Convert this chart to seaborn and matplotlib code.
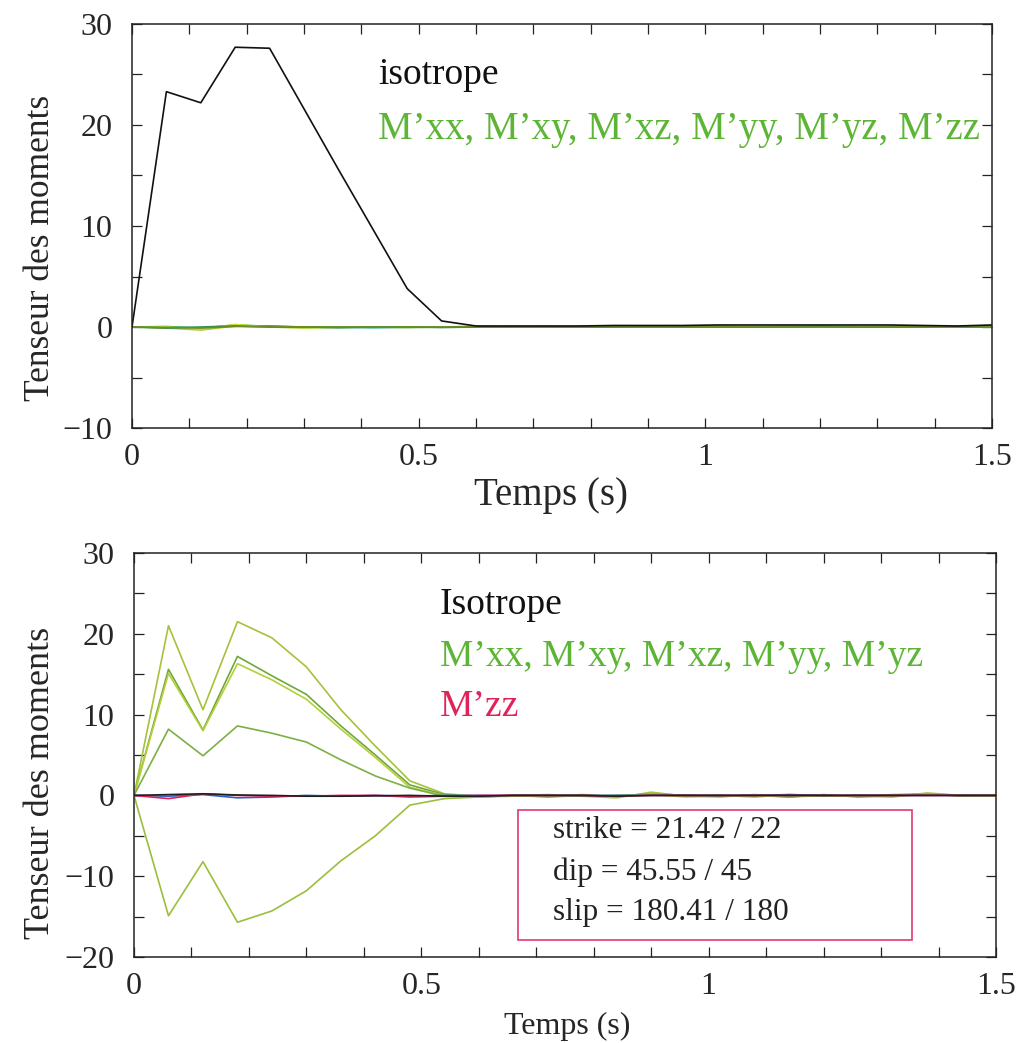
import matplotlib
matplotlib.use("Agg")
import matplotlib.pyplot as plt
import seaborn as sns
import pandas as pd
from matplotlib.patches import Rectangle
from matplotlib.ticker import MultipleLocator

sns.set_theme(style="white")
plt.rcParams['font.family'] = ['Liberation Serif', 'DejaVu Serif']
plt.rcParams['axes.unicode_minus'] = True

# ---------------- data ----------------
t = [0.00, 0.06, 0.12, 0.18, 0.24, 0.30, 0.36, 0.42, 0.48, 0.54, 0.60, 0.66, 0.72,
     0.78, 0.84, 0.90, 0.96, 1.02, 1.08, 1.14, 1.20, 1.26, 1.32, 1.38, 1.44, 1.50]

# top panel
iso_top = [0.0, 23.3, 22.2, 27.7, 27.6, 21.6, 15.6, 9.7, 3.8, 0.6, 0.1, 0.1, 0.1,
           0.1, 0.15, 0.15, 0.15, 0.2, 0.2, 0.2, 0.2, 0.2, 0.2, 0.15, 0.1, 0.2]
mxx_top = [0.0, -0.1, -0.3, 0.1, 0.0, -0.1, -0.05, 0.0, 0.0, 0.0, 0.05, 0.0, 0.0,
           0.05, 0.0, 0.05, 0.0, 0.05, 0.0, 0.05, 0.0, 0.05, 0.0, 0.05, 0.0, 0.1]
mxy_top = [0.0, 0.05, -0.1, 0.2, 0.05, 0.0, 0.0, -0.05, 0.0, 0.0, 0.0, 0.05, 0.0,
           0.0, 0.05, 0.0, 0.0, 0.05, 0.0, 0.0, 0.05, 0.0, 0.0, 0.05, 0.0, 0.05]
mxz_top = [0.0, -0.05, -0.15, 0.15, 0.1, 0.0, -0.05, -0.05, -0.05, 0.0, 0.0, 0.0, 0.05,
           0.0, 0.0, 0.0, 0.05, 0.0, 0.0, 0.05, 0.0, 0.0, 0.05, 0.0, 0.0, 0.0]
myy_top = [0.0, 0.0, -0.2, 0.25, 0.0, -0.05, 0.0, 0.0, -0.05, 0.0, 0.0, 0.0, 0.0,
           0.05, 0.0, 0.0, 0.0, 0.0, 0.05, 0.0, 0.0, 0.0, 0.05, 0.0, 0.0, 0.05]
myz_top = [0.0, -0.1, 0.0, 0.1, 0.0, 0.0, -0.05, 0.0, 0.0, -0.05, 0.0, 0.0, 0.0,
           0.0, 0.0, 0.05, 0.0, 0.0, 0.0, 0.0, 0.05, 0.0, 0.0, 0.0, 0.05, 0.0]
mzz_top = [0.0, -0.05, -0.1, 0.05, 0.05, 0.0, 0.0, 0.0, 0.0, 0.0, 0.05, 0.0, 0.0,
           0.0, 0.0, 0.0, 0.0, 0.05, 0.0, 0.0, 0.0, 0.0, 0.0, 0.05, 0.0, 0.0]

# bottom panel
g1_bot = [0.0, 21.0, 10.6, 21.5, 19.5, 15.9, 10.6, 6.1, 1.8, 0.2, -0.1, 0.0, 0.1,
          -0.1, -0.3, 0.4, -0.1, -0.2, 0.1, -0.2, 0.0, -0.1, -0.2, 0.3, 0.0, -0.1]
g2_bot = [0.0, 15.6, 8.1, 17.2, 14.8, 12.5, 8.6, 5.0, 1.3, 0.1, -0.2, 0.0, -0.2,
          0.0, -0.1, 0.2, 0.0, -0.1, 0.0, -0.2, 0.1, -0.2, 0.0, 0.2, -0.1, 0.0]
g3_bot = [0.0, 15.1, 8.0, 16.3, 14.3, 11.9, 8.2, 4.7, 1.0, 0.0, -0.2, -0.1, 0.0,
          -0.1, 0.0, 0.1, -0.2, 0.0, -0.1, 0.0, -0.1, 0.0, -0.1, 0.1, 0.0, 0.0]
g4_bot = [0.0, 8.2, 4.9, 8.6, 7.7, 6.6, 4.4, 2.4, 0.9, -0.1, -0.2, 0.0, 0.0,
          -0.1, 0.0, 0.1, 0.0, -0.1, 0.0, 0.0, -0.1, 0.0, 0.0, 0.1, 0.0, 0.0]
g5_bot = [0.0, -14.9, -8.2, -15.7, -14.3, -11.8, -8.1, -5.0, -1.2, -0.4, -0.2, 0.0, -0.1,
          0.1, -0.1, 0.2, 0.0, 0.0, -0.2, 0.1, 0.0, -0.1, 0.1, 0.2, 0.0, 0.0]
iso_bot = [0.0, 0.1, 0.2, 0.05, 0.0, -0.1, -0.1, -0.05, 0.0, -0.1, -0.1, 0.0, 0.0,
           0.0, -0.1, 0.0, 0.0, 0.0, 0.0, 0.0, 0.0, 0.0, 0.0, 0.0, 0.0, 0.0]
mzz_bot = [0.0, -0.4, 0.2, 0.0, -0.1, -0.1, 0.0, 0.0, -0.2, -0.1, 0.0, 0.0, 0.0,
           0.0, -0.1, 0.0, 0.0, 0.0, 0.0, 0.0, 0.0, 0.0, 0.0, 0.0, 0.0, 0.0]
blu_bot = [0.0, -0.1, 0.1, -0.3, -0.2, 0.0, -0.1, 0.0, -0.1, 0.0, 0.0, 0.0, 0.0,
           0.0, 0.0, 0.0, 0.0, 0.0, 0.0, 0.1, 0.0, 0.0, 0.0, 0.0, 0.0, 0.0]

xticks = [0, 0.5, 1, 1.5]
xticklabels = ["0", "0.5", "1", "1.5"]
yticks_top = [-10, 0, 10, 20, 30]
yticks_bot = [-20, -10, 0, 10, 20, 30]

label_top = ["isotrope", "M\u2019xx, M\u2019xy, M\u2019xz, M\u2019yy, M\u2019yz, M\u2019zz"]
label_bot = ["Isotrope", "M\u2019xx, M\u2019xy, M\u2019xz, M\u2019yy, M\u2019yz", "M\u2019zz"]
box_lines = ["strike = 21.42 / 22", "dip = 45.55 / 45", "slip = 180.41 / 180"]

# ---------------- figure ----------------
fig = plt.figure(figsize=(10.18, 10.43), dpi=100)
ax1 = fig.add_axes([132 / 1018, 1 - 428 / 1043, 860 / 1018, 404 / 1043])
ax2 = fig.add_axes([134 / 1018, 1 - 957 / 1043, 862 / 1018, 404 / 1043])

LW = 1.2
top_series = [
    (mxx_top, "#A8CC30"), (mxy_top, "#3CB371"), (mxz_top, "#20A0A0"),
    (myy_top, "#D0DC30"), (myz_top, "#2E8B57"), (mzz_top, "#6B8E23"),
]
for vals, col in top_series:
    sns.lineplot(x=t, y=vals, ax=ax1, color=col, lw=LW)
sns.lineplot(x=t, y=iso_top, ax=ax1, color="#111111", lw=LW)

bot_series = [
    (g1_bot, "#A5C23A"), (g2_bot, "#6FA83A"), (g3_bot, "#B3CF3A"),
    (g4_bot, "#7DAF45"), (g5_bot, "#9BBF3C"),
    (blu_bot, "#3060C0"), (mzz_bot, "#E0205A"), (iso_bot, "#202020"),
]
for vals, col in bot_series:
    sns.lineplot(x=t, y=vals, ax=ax2, color=col, lw=LW)

for ax, yt, ylim in [(ax1, yticks_top, (-10, 30)), (ax2, yticks_bot, (-20, 30))]:
    ax.set_xlim(0, 1.5)
    ax.set_ylim(*ylim)
    ax.set_xticks(xticks)
    ax.set_xticklabels(xticklabels)
    ax.set_yticks(yt)
    ax.set_yticklabels([str(v).replace("-", "\u2212") for v in yt])
    ax.xaxis.set_minor_locator(MultipleLocator(0.1))
    ax.yaxis.set_minor_locator(MultipleLocator(5))
    ax.tick_params(which="both", direction="in", top=True, right=True,
                   bottom=True, left=True, length=7, width=0.9, color="#222222")
    ax.tick_params(axis="x", which="major", labelsize=23, pad=11)
    ax.tick_params(axis="y", which="major", labelsize=23, pad=14)
    for s in ax.spines.values():
        s.set_color("#222222")
        s.set_linewidth(1.1)
    ax.set_facecolor("white")

ax1.set_xlabel("Temps (s)", fontsize=28)
ax1.set_ylabel("Tenseur des moments", fontsize=25.5)
ax2.set_xlabel("Temps (s)", fontsize=23)
ax2.set_ylabel("Tenseur des moments", fontsize=26)
ax1.xaxis.set_label_coords(0.487, -0.122)
ax2.xaxis.set_label_coords(0.502, -0.135)
ax1.yaxis.set_label_coords(-0.087, 0.446)
ax2.yaxis.set_label_coords(-0.089, 0.43)

ax1.text(0.286, 0.874, label_top[0], transform=ax1.transAxes, fontsize=27,
         color="#111111", va="center", ha="left")
ax1.text(0.286, 0.738, label_top[1], transform=ax1.transAxes, fontsize=28,
         color="#5DB535", va="center", ha="left")
ax2.text(0.355, 0.871, label_bot[0], transform=ax2.transAxes, fontsize=27,
         color="#111111", va="center", ha="left")
ax2.text(0.355, 0.743, label_bot[1], transform=ax2.transAxes, fontsize=27,
         color="#5DB535", va="center", ha="left")
ax2.text(0.355, 0.619, label_bot[2], transform=ax2.transAxes, fontsize=27,
         color="#E0245A", va="center", ha="left")

ax2.add_patch(Rectangle((0.4455, 0.042), 0.9026 - 0.4455, 0.3639 - 0.042,
                        transform=ax2.transAxes, fill=True, facecolor="white",
                        edgecolor="#E03A70", lw=1.2, zorder=5))
for yy, s in zip([0.312, 0.210, 0.111], box_lines):
    ax2.text(0.486, yy, s, transform=ax2.transAxes, fontsize=22.5, color="#222222",
             va="center", ha="left", zorder=6)

fig.savefig("out.png", dpi=100, facecolor="white")
